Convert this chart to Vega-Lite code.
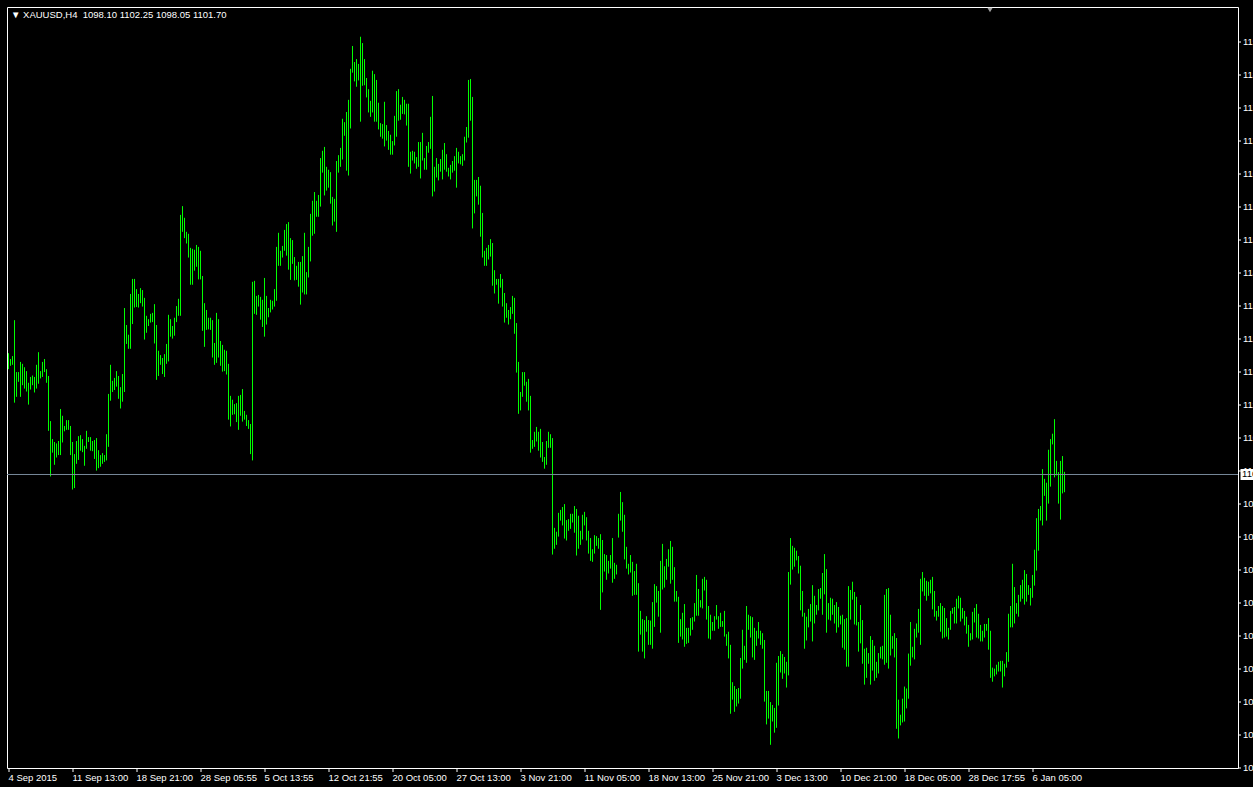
{
"$schema": "https://vega.github.io/schema/vega-lite/v6.json",
"width": 1231, "height": 761,
"autosize": {"type": "none"},
"padding": {"left": 7, "top": 7, "right": 15, "bottom": 19},
"background": "#000000",
"title": {"text": "▼ XAUUSD,H4\u00a0 1098.10 1102.25 1098.05 1101.70", "anchor": "start", "frame": "group", "orient": "top", "offset": 0, "baseline": "top", "dx": 4, "dy": 12, "font": "Liberation Sans, sans-serif", "fontSize": 9.5, "fontWeight": "normal", "color": "#ffffff"},
"config": {"view": {"stroke": "#ffffff", "strokeWidth": 1, "fill": "#000000"}, "axis": {"labelOverlap": false, "labelFlush": false}},
"layer": [
{"data": {"values": [
{"bar":0,"high":1126.7,"low":1123.4},{"bar":1,"high":1125.5,"low":1124.1},{"bar":2,"high":1126.1,"low":1124.3},{"bar":3,"high":1133.5,"low":1116.5},{"bar":4,"high":1122.8,"low":1117.7},{"bar":5,"high":1122.8,"low":1120.8},{"bar":6,"high":1124.9,"low":1117.7},{"bar":7,"high":1124.5,"low":1120.1},{"bar":8,"high":1123.8,"low":1119.4},{"bar":9,"high":1123.0,"low":1118.8},
{"bar":10,"high":1120.6,"low":1116.1},{"bar":11,"high":1121.8,"low":1119.2},{"bar":12,"high":1122.1,"low":1120.1},{"bar":13,"high":1121.8,"low":1118.6},{"bar":14,"high":1124.3,"low":1119.4},{"bar":15,"high":1126.9,"low":1120.4},{"bar":16,"high":1123.0,"low":1121.5},{"bar":17,"high":1124.9,"low":1121.8},{"bar":18,"high":1125.5,"low":1122.8},{"bar":19,"high":1123.4,"low":1120.6},
{"bar":20,"high":1122.0,"low":1110.7},{"bar":21,"high":1112.7,"low":1101.3},{"bar":22,"high":1109.0,"low":1106.2},{"bar":23,"high":1108.4,"low":1103.7},{"bar":24,"high":1108.1,"low":1105.2},{"bar":25,"high":1108.6,"low":1105.7},{"bar":26,"high":1115.2,"low":1105.7},{"bar":27,"high":1113.8,"low":1108.3},{"bar":28,"high":1111.7,"low":1110.6},{"bar":29,"high":1112.9,"low":1110.9},
{"bar":30,"high":1112.9,"low":1110.9},{"bar":31,"high":1111.7,"low":1105.7},{"bar":32,"high":1108.4,"low":1098.6},{"bar":33,"high":1105.9,"low":1098.9},{"bar":34,"high":1108.6,"low":1103.9},{"bar":35,"high":1109.6,"low":1104.7},{"bar":36,"high":1109.8,"low":1106.6},{"bar":37,"high":1109.0,"low":1106.3},{"bar":38,"high":1107.6,"low":1103.5},{"bar":39,"high":1110.7,"low":1107.0},
{"bar":40,"high":1109.4,"low":1108.4},{"bar":41,"high":1109.4,"low":1106.6},{"bar":42,"high":1108.6,"low":1106.5},{"bar":43,"high":1108.8,"low":1104.9},{"bar":44,"high":1109.2,"low":1102.5},{"bar":45,"high":1106.7,"low":1103.0},{"bar":46,"high":1105.7,"low":1103.3},{"bar":47,"high":1106.1,"low":1103.9},{"bar":48,"high":1105.7,"low":1104.3},{"bar":49,"high":1110.0,"low":1104.6},
{"bar":50,"high":1118.3,"low":1107.4},{"bar":51,"high":1124.3,"low":1116.9},{"bar":52,"high":1121.0,"low":1118.7},{"bar":53,"high":1121.6,"low":1119.1},{"bar":54,"high":1123.0,"low":1119.8},{"bar":55,"high":1122.0,"low":1117.3},{"bar":56,"high":1119.7,"low":1115.3},{"bar":57,"high":1122.4,"low":1116.7},{"bar":58,"high":1136.0,"low":1118.7},{"bar":59,"high":1132.5,"low":1128.6},
{"bar":60,"high":1130.5,"low":1127.6},{"bar":61,"high":1138.9,"low":1127.6},{"bar":62,"high":1142.0,"low":1132.7},{"bar":63,"high":1142.0,"low":1136.1},{"bar":64,"high":1139.9,"low":1136.2},{"bar":65,"high":1138.9,"low":1136.1},{"bar":66,"high":1140.1,"low":1137.0},{"bar":67,"high":1139.7,"low":1136.3},{"bar":68,"high":1138.1,"low":1129.5},{"bar":69,"high":1134.4,"low":1130.9},
{"bar":70,"high":1133.7,"low":1132.3},{"bar":71,"high":1134.8,"low":1133.0},{"bar":72,"high":1135.0,"low":1133.1},{"bar":73,"high":1136.8,"low":1128.7},{"bar":74,"high":1132.5,"low":1121.2},{"bar":75,"high":1127.2,"low":1122.0},{"bar":76,"high":1126.3,"low":1124.3},{"bar":77,"high":1125.7,"low":1122.4},{"bar":78,"high":1126.5,"low":1121.8},{"bar":79,"high":1128.6,"low":1124.5},
{"bar":80,"high":1134.6,"low":1125.0},{"bar":81,"high":1133.7,"low":1130.1},{"bar":82,"high":1132.3,"low":1129.7},{"bar":83,"high":1134.0,"low":1130.3},{"bar":84,"high":1136.4,"low":1133.1},{"bar":85,"high":1137.9,"low":1134.4},{"bar":86,"high":1155.2,"low":1134.4},{"bar":87,"high":1157.0,"low":1151.7},{"bar":88,"high":1154.6,"low":1150.4},{"bar":89,"high":1151.7,"low":1149.3},
{"bar":90,"high":1151.3,"low":1146.4},{"bar":91,"high":1148.4,"low":1140.8},{"bar":92,"high":1148.2,"low":1140.8},{"bar":93,"high":1148.0,"low":1143.7},{"bar":94,"high":1149.0,"low":1144.5},{"bar":95,"high":1148.6,"low":1141.9},{"bar":96,"high":1147.8,"low":1141.9},{"bar":97,"high":1142.6,"low":1131.3},{"bar":98,"high":1137.0,"low":1128.0},{"bar":99,"high":1135.6,"low":1131.5},
{"bar":100,"high":1134.0,"low":1131.6},{"bar":101,"high":1134.0,"low":1131.5},{"bar":102,"high":1133.5,"low":1125.8},{"bar":103,"high":1128.8,"low":1124.3},{"bar":104,"high":1135.0,"low":1124.7},{"bar":105,"high":1133.7,"low":1125.8},{"bar":106,"high":1129.2,"low":1124.1},{"bar":107,"high":1128.4,"low":1122.9},{"bar":108,"high":1127.4,"low":1123.0},{"bar":109,"high":1127.2,"low":1122.3},
{"bar":110,"high":1124.5,"low":1113.0},{"bar":111,"high":1117.9,"low":1111.6},{"bar":112,"high":1117.1,"low":1114.0},{"bar":113,"high":1116.2,"low":1114.1},{"bar":114,"high":1116.4,"low":1112.5},{"bar":115,"high":1117.9,"low":1110.9},{"bar":116,"high":1118.1,"low":1113.8},{"bar":117,"high":1119.3,"low":1112.6},{"bar":118,"high":1114.8,"low":1113.0},{"bar":119,"high":1114.0,"low":1111.7},
{"bar":120,"high":1112.9,"low":1111.1},{"bar":121,"high":1112.1,"low":1105.9},{"bar":122,"high":1141.4,"low":1104.6},{"bar":123,"high":1141.6,"low":1134.8},{"bar":124,"high":1138.5,"low":1134.6},{"bar":125,"high":1138.7,"low":1136.3},{"bar":126,"high":1138.3,"low":1133.6},{"bar":127,"high":1137.7,"low":1132.1},{"bar":128,"high":1142.2,"low":1130.1},{"bar":129,"high":1138.5,"low":1132.6},
{"bar":130,"high":1136.0,"low":1134.1},{"bar":131,"high":1137.7,"low":1135.1},{"bar":132,"high":1137.5,"low":1135.7},{"bar":133,"high":1139.9,"low":1136.3},{"bar":134,"high":1148.6,"low":1137.5},{"bar":135,"high":1151.5,"low":1144.7},{"bar":136,"high":1147.8,"low":1144.7},{"bar":137,"high":1148.8,"low":1146.4},{"bar":138,"high":1152.1,"low":1147.8},{"bar":139,"high":1153.3,"low":1146.8},
{"bar":140,"high":1153.7,"low":1143.9},{"bar":141,"high":1150.4,"low":1141.8},{"bar":142,"high":1150.0,"low":1145.1},{"bar":143,"high":1146.5,"low":1141.7},{"bar":144,"high":1144.7,"low":1141.8},{"bar":145,"high":1145.5,"low":1140.4},{"bar":146,"high":1145.5,"low":1136.7},{"bar":147,"high":1146.7,"low":1139.2},{"bar":148,"high":1151.5,"low":1138.8},{"bar":149,"high":1143.4,"low":1138.8},
{"bar":150,"high":1148.6,"low":1142.3},{"bar":151,"high":1155.4,"low":1145.6},{"bar":152,"high":1158.1,"low":1150.9},{"bar":153,"high":1159.9,"low":1151.3},{"bar":154,"high":1158.1,"low":1154.8},{"bar":155,"high":1159.3,"low":1154.8},{"bar":156,"high":1166.9,"low":1156.9},{"bar":157,"high":1168.4,"low":1163.9},{"bar":158,"high":1169.2,"low":1159.2},{"bar":159,"high":1165.1,"low":1160.2},
{"bar":160,"high":1164.5,"low":1160.8},{"bar":161,"high":1164.0,"low":1157.5},{"bar":162,"high":1158.9,"low":1153.0},{"bar":163,"high":1158.5,"low":1153.8},{"bar":164,"high":1166.3,"low":1151.7},{"bar":165,"high":1167.5,"low":1163.9},{"bar":166,"high":1169.0,"low":1165.1},{"bar":167,"high":1175.0,"low":1166.6},{"bar":168,"high":1174.3,"low":1171.5},{"bar":169,"high":1176.4,"low":1164.3},
{"bar":170,"high":1178.9,"low":1163.3},{"bar":171,"high":1185.3,"low":1173.0},{"bar":172,"high":1190.0,"low":1184.5},{"bar":173,"high":1186.7,"low":1182.7},{"bar":174,"high":1187.3,"low":1181.6},{"bar":175,"high":1186.3,"low":1182.9},{"bar":176,"high":1191.9,"low":1174.4},{"bar":177,"high":1190.6,"low":1181.8},{"bar":178,"high":1187.3,"low":1181.9},{"bar":179,"high":1183.4,"low":1179.4},
{"bar":180,"high":1181.1,"low":1176.3},{"bar":181,"high":1178.7,"low":1175.4},{"bar":182,"high":1184.9,"low":1176.3},{"bar":183,"high":1184.2,"low":1174.4},{"bar":184,"high":1183.0,"low":1174.4},{"bar":185,"high":1178.3,"low":1172.8},{"bar":186,"high":1174.1,"low":1171.3},{"bar":187,"high":1173.9,"low":1170.9},{"bar":188,"high":1178.5,"low":1169.3},{"bar":189,"high":1173.7,"low":1170.5},
{"bar":190,"high":1172.5,"low":1168.6},{"bar":191,"high":1171.7,"low":1167.6},{"bar":192,"high":1170.4,"low":1167.6},{"bar":193,"high":1175.6,"low":1169.5},{"bar":194,"high":1180.7,"low":1171.3},{"bar":195,"high":1181.1,"low":1174.6},{"bar":196,"high":1177.9,"low":1174.8},{"bar":197,"high":1179.5,"low":1176.0},{"bar":198,"high":1178.9,"low":1175.9},{"bar":199,"high":1178.1,"low":1173.6},
{"bar":200,"high":1178.1,"low":1165.1},{"bar":201,"high":1168.2,"low":1163.7},{"bar":202,"high":1168.4,"low":1166.4},{"bar":203,"high":1168.2,"low":1165.8},{"bar":204,"high":1167.1,"low":1164.7},{"bar":205,"high":1170.2,"low":1165.1},{"bar":206,"high":1170.2,"low":1162.7},{"bar":207,"high":1172.1,"low":1166.4},{"bar":208,"high":1166.9,"low":1164.5},{"bar":209,"high":1169.4,"low":1164.5},
{"bar":210,"high":1170.2,"low":1168.0},{"bar":211,"high":1175.4,"low":1168.8},{"bar":212,"high":1179.7,"low":1159.0},{"bar":213,"high":1165.1,"low":1160.0},{"bar":214,"high":1166.9,"low":1162.9},{"bar":215,"high":1165.7,"low":1162.3},{"bar":216,"high":1166.7,"low":1164.1},{"bar":217,"high":1168.6,"low":1162.5},{"bar":218,"high":1170.0,"low":1164.5},{"bar":219,"high":1167.7,"low":1164.1},
{"bar":220,"high":1164.9,"low":1163.1},{"bar":221,"high":1165.5,"low":1162.5},{"bar":222,"high":1166.3,"low":1163.9},{"bar":223,"high":1167.3,"low":1164.3},{"bar":224,"high":1169.0,"low":1160.8},{"bar":225,"high":1168.2,"low":1165.8},{"bar":226,"high":1167.3,"low":1165.6},{"bar":227,"high":1167.7,"low":1165.3},{"bar":228,"high":1171.3,"low":1166.4},{"bar":229,"high":1173.3,"low":1170.1},
{"bar":230,"high":1183.0,"low":1171.1},{"bar":231,"high":1183.2,"low":1174.6},{"bar":232,"high":1179.5,"low":1152.4},{"bar":233,"high":1162.4,"low":1155.5},{"bar":234,"high":1162.4,"low":1159.0},{"bar":235,"high":1163.0,"low":1157.3},{"bar":236,"high":1161.2,"low":1150.7},{"bar":237,"high":1155.6,"low":1146.4},{"bar":238,"high":1147.8,"low":1144.7},{"bar":239,"high":1148.4,"low":1144.7},
{"bar":240,"high":1149.0,"low":1146.0},{"bar":241,"high":1150.2,"low":1146.6},{"bar":242,"high":1149.4,"low":1140.6},{"bar":243,"high":1143.8,"low":1139.0},{"bar":244,"high":1142.0,"low":1140.8},{"bar":245,"high":1142.0,"low":1136.9},{"bar":246,"high":1143.0,"low":1140.2},{"bar":247,"high":1142.0,"low":1136.3},{"bar":248,"high":1139.1,"low":1133.0},{"bar":249,"high":1137.0,"low":1134.0},
{"bar":250,"high":1135.6,"low":1132.6},{"bar":251,"high":1136.2,"low":1133.7},{"bar":252,"high":1138.5,"low":1134.8},{"bar":253,"high":1138.1,"low":1130.7},{"bar":254,"high":1132.9,"low":1122.7},{"bar":255,"high":1124.9,"low":1114.2},{"bar":256,"high":1118.7,"low":1114.9},{"bar":257,"high":1122.8,"low":1117.7},{"bar":258,"high":1122.8,"low":1120.0},{"bar":259,"high":1120.8,"low":1116.7},
{"bar":260,"high":1121.4,"low":1114.9},{"bar":261,"high":1117.9,"low":1106.2},{"bar":262,"high":1108.8,"low":1107.0},{"bar":263,"high":1110.5,"low":1107.4},{"bar":264,"high":1111.5,"low":1108.5},{"bar":265,"high":1110.5,"low":1106.6},{"bar":266,"high":1111.1,"low":1105.2},{"bar":267,"high":1108.4,"low":1104.3},{"bar":268,"high":1105.3,"low":1102.9},{"bar":269,"high":1108.6,"low":1103.7},
{"bar":270,"high":1110.5,"low":1107.2},{"bar":271,"high":1110.0,"low":1107.2},{"bar":272,"high":1109.2,"low":1085.2},{"bar":273,"high":1090.7,"low":1086.4},{"bar":274,"high":1089.9,"low":1087.2},{"bar":275,"high":1093.8,"low":1088.9},{"bar":276,"high":1094.4,"low":1092.2},{"bar":277,"high":1095.0,"low":1091.2},{"bar":278,"high":1095.6,"low":1088.5},{"bar":279,"high":1092.3,"low":1088.1},
{"bar":280,"high":1092.5,"low":1090.1},{"bar":281,"high":1093.6,"low":1090.5},{"bar":282,"high":1093.6,"low":1091.8},{"bar":283,"high":1095.2,"low":1089.7},{"bar":284,"high":1094.6,"low":1085.0},{"bar":285,"high":1093.2,"low":1086.4},{"bar":286,"high":1090.1,"low":1087.2},{"bar":287,"high":1093.4,"low":1088.3},{"bar":288,"high":1094.0,"low":1091.2},{"bar":289,"high":1092.9,"low":1088.1},
{"bar":290,"high":1090.1,"low":1085.4},{"bar":291,"high":1088.6,"low":1083.9},{"bar":292,"high":1086.3,"low":1083.7},{"bar":293,"high":1089.2,"low":1085.4},{"bar":294,"high":1089.0,"low":1087.0},{"bar":295,"high":1088.6,"low":1086.4},{"bar":296,"high":1089.4,"low":1073.8},{"bar":297,"high":1088.2,"low":1077.4},{"bar":298,"high":1085.3,"low":1081.7},{"bar":299,"high":1085.1,"low":1080.0},
{"bar":300,"high":1083.9,"low":1081.3},{"bar":301,"high":1085.1,"low":1082.3},{"bar":302,"high":1088.6,"low":1079.4},{"bar":303,"high":1083.5,"low":1080.2},{"bar":304,"high":1083.1,"low":1081.1},{"bar":305,"high":1093.6,"low":1088.7},{"bar":306,"high":1098.1,"low":1092.2},{"bar":307,"high":1096.0,"low":1089.9},{"bar":308,"high":1093.4,"low":1084.2},{"bar":309,"high":1086.8,"low":1082.3},
{"bar":310,"high":1083.3,"low":1081.1},{"bar":311,"high":1085.1,"low":1081.5},{"bar":312,"high":1083.7,"low":1076.7},{"bar":313,"high":1081.8,"low":1076.9},{"bar":314,"high":1083.3,"low":1076.9},{"bar":315,"high":1079.3,"low":1065.2},{"bar":316,"high":1073.6,"low":1068.7},{"bar":317,"high":1071.9,"low":1065.2},{"bar":318,"high":1071.7,"low":1063.8},{"bar":319,"high":1072.5,"low":1069.3},
{"bar":320,"high":1071.7,"low":1066.6},{"bar":321,"high":1071.6,"low":1066.6},{"bar":322,"high":1075.4,"low":1065.8},{"bar":323,"high":1079.1,"low":1070.3},{"bar":324,"high":1078.7,"low":1075.3},{"bar":325,"high":1077.7,"low":1072.4},{"bar":326,"high":1083.9,"low":1069.1},{"bar":327,"high":1087.4,"low":1078.0},{"bar":328,"high":1082.8,"low":1078.4},{"bar":329,"high":1084.3,"low":1080.0},
{"bar":330,"high":1086.3,"low":1082.7},{"bar":331,"high":1088.0,"low":1079.2},{"bar":332,"high":1086.8,"low":1080.0},{"bar":333,"high":1082.6,"low":1075.5},{"bar":334,"high":1077.7,"low":1075.5},{"bar":335,"high":1076.5,"low":1067.0},{"bar":336,"high":1071.9,"low":1068.3},{"bar":337,"high":1073.2,"low":1067.7},{"bar":338,"high":1075.0,"low":1066.2},{"bar":339,"high":1070.1,"low":1066.8},
{"bar":340,"high":1070.1,"low":1067.0},{"bar":341,"high":1072.1,"low":1068.5},{"bar":342,"high":1072.3,"low":1069.7},{"bar":343,"high":1075.2,"low":1071.4},{"bar":344,"high":1081.0,"low":1072.6},{"bar":345,"high":1078.1,"low":1072.6},{"bar":346,"high":1075.8,"low":1074.3},{"bar":347,"high":1080.2,"low":1074.1},{"bar":348,"high":1080.6,"low":1077.8},{"bar":349,"high":1080.0,"low":1071.8},
{"bar":350,"high":1074.6,"low":1067.9},{"bar":351,"high":1072.8,"low":1067.7},{"bar":352,"high":1071.3,"low":1069.5},{"bar":353,"high":1072.5,"low":1069.5},{"bar":354,"high":1074.8,"low":1071.8},{"bar":355,"high":1072.5,"low":1069.9},{"bar":356,"high":1073.2,"low":1070.3},{"bar":357,"high":1071.5,"low":1070.3},{"bar":358,"high":1073.6,"low":1068.3},{"bar":359,"high":1068.8,"low":1066.4},
{"bar":360,"high":1069.3,"low":1063.8},{"bar":361,"high":1066.6,"low":1052.4},{"bar":362,"high":1058.9,"low":1055.3},{"bar":363,"high":1058.1,"low":1052.8},{"bar":364,"high":1057.5,"low":1053.9},{"bar":365,"high":1057.7,"low":1054.5},{"bar":366,"high":1063.9,"low":1055.5},{"bar":367,"high":1069.7,"low":1061.7},{"bar":368,"high":1066.4,"low":1063.5},{"bar":369,"high":1074.6,"low":1062.9},
{"bar":370,"high":1072.8,"low":1069.7},{"bar":371,"high":1072.5,"low":1068.1},{"bar":372,"high":1072.3,"low":1064.0},{"bar":373,"high":1070.1,"low":1063.5},{"bar":374,"high":1069.5,"low":1066.4},{"bar":375,"high":1071.3,"low":1067.9},{"bar":376,"high":1069.5,"low":1066.6},{"bar":377,"high":1069.0,"low":1065.8},{"bar":378,"high":1067.6,"low":1054.9},{"bar":379,"high":1057.1,"low":1050.2},
{"bar":380,"high":1057.1,"low":1051.4},{"bar":381,"high":1054.8,"low":1046.0},{"bar":382,"high":1054.2,"low":1050.8},{"bar":383,"high":1053.6,"low":1048.5},{"bar":384,"high":1062.9,"low":1049.5},{"bar":385,"high":1064.3,"low":1054.1},{"bar":386,"high":1065.3,"low":1060.9},{"bar":387,"high":1064.7,"low":1059.6},{"bar":388,"high":1064.1,"low":1060.7},{"bar":389,"high":1063.1,"low":1057.8},
{"bar":390,"high":1081.6,"low":1060.3},{"bar":391,"high":1088.6,"low":1079.0},{"bar":392,"high":1087.0,"low":1082.1},{"bar":393,"high":1086.6,"low":1082.7},{"bar":394,"high":1086.0,"low":1084.0},{"bar":395,"high":1084.9,"low":1081.3},{"bar":396,"high":1082.9,"low":1073.7},{"bar":397,"high":1077.7,"low":1072.4},{"bar":398,"high":1073.2,"low":1065.8},{"bar":399,"high":1072.4,"low":1067.5},
{"bar":400,"high":1074.0,"low":1070.2},{"bar":401,"high":1075.0,"low":1071.4},{"bar":402,"high":1078.9,"low":1067.3},{"bar":403,"high":1076.7,"low":1071.0},{"bar":404,"high":1074.8,"low":1072.8},{"bar":405,"high":1078.1,"low":1073.7},{"bar":406,"high":1078.3,"low":1076.1},{"bar":407,"high":1081.4,"low":1072.8},{"bar":408,"high":1085.3,"low":1077.0},{"bar":409,"high":1082.2,"low":1069.1},
{"bar":410,"high":1075.2,"low":1071.8},{"bar":411,"high":1076.3,"low":1071.6},{"bar":412,"high":1076.1,"low":1072.8},{"bar":413,"high":1074.8,"low":1071.0},{"bar":414,"high":1075.4,"low":1069.1},{"bar":415,"high":1074.4,"low":1070.2},{"bar":416,"high":1072.6,"low":1070.8},{"bar":417,"high":1072.8,"low":1066.0},{"bar":418,"high":1071.9,"low":1065.6},{"bar":419,"high":1072.1,"low":1062.1},
{"bar":420,"high":1078.7,"low":1062.1},{"bar":421,"high":1077.9,"low":1071.8},{"bar":422,"high":1079.6,"low":1075.9},{"bar":423,"high":1077.5,"low":1070.8},{"bar":424,"high":1076.5,"low":1070.6},{"bar":425,"high":1071.3,"low":1065.2},{"bar":426,"high":1074.8,"low":1066.9},{"bar":427,"high":1071.7,"low":1062.7},{"bar":428,"high":1065.8,"low":1058.4},{"bar":429,"high":1066.0,"low":1059.8},
{"bar":430,"high":1064.9,"low":1062.7},{"bar":431,"high":1068.4,"low":1058.4},{"bar":432,"high":1067.6,"low":1061.3},{"bar":433,"high":1066.4,"low":1059.2},{"bar":434,"high":1063.1,"low":1059.8},{"bar":435,"high":1064.9,"low":1060.7},{"bar":436,"high":1066.2,"low":1063.8},{"bar":437,"high":1066.4,"low":1063.6},{"bar":438,"high":1076.9,"low":1062.5},{"bar":439,"high":1078.1,"low":1062.9},
{"bar":440,"high":1078.3,"low":1061.7},{"bar":441,"high":1072.8,"low":1064.4},{"bar":442,"high":1068.4,"low":1065.8},{"bar":443,"high":1069.0,"low":1064.0},{"bar":444,"high":1068.0,"low":1049.3},{"bar":445,"high":1055.3,"low":1047.3},{"bar":446,"high":1052.2,"low":1050.0},{"bar":447,"high":1055.5,"low":1050.6},{"bar":448,"high":1058.0,"low":1050.8},{"bar":449,"high":1057.6,"low":1053.5},
{"bar":450,"high":1064.8,"low":1055.5},{"bar":451,"high":1071.3,"low":1062.3},{"bar":452,"high":1066.2,"low":1064.0},{"bar":453,"high":1069.9,"low":1063.6},{"bar":454,"high":1071.0,"low":1068.1},{"bar":455,"high":1074.0,"low":1069.1},{"bar":456,"high":1080.2,"low":1066.6},{"bar":457,"high":1081.6,"low":1077.6},{"bar":458,"high":1080.4,"low":1076.7},{"bar":459,"high":1079.8,"low":1075.7},
{"bar":460,"high":1079.6,"low":1076.7},{"bar":461,"high":1080.0,"low":1077.2},{"bar":462,"high":1080.6,"low":1073.9},{"bar":463,"high":1077.7,"low":1072.4},{"bar":464,"high":1073.6,"low":1071.6},{"bar":465,"high":1074.6,"low":1072.4},{"bar":466,"high":1075.2,"low":1069.3},{"bar":467,"high":1074.6,"low":1067.9},{"bar":468,"high":1074.2,"low":1068.1},{"bar":469,"high":1072.1,"low":1068.3},
{"bar":470,"high":1070.1,"low":1067.7},{"bar":471,"high":1073.6,"low":1069.7},{"bar":472,"high":1074.2,"low":1073.0},{"bar":473,"high":1074.4,"low":1071.0},{"bar":474,"high":1076.1,"low":1071.0},{"bar":475,"high":1076.7,"low":1074.1},{"bar":476,"high":1076.3,"low":1071.4},{"bar":477,"high":1074.2,"low":1072.0},{"bar":478,"high":1073.6,"low":1070.6},{"bar":479,"high":1072.4,"low":1068.9},
{"bar":480,"high":1070.7,"low":1066.2},{"bar":481,"high":1069.0,"low":1067.5},{"bar":482,"high":1073.4,"low":1067.7},{"bar":483,"high":1074.2,"low":1071.2},{"bar":484,"high":1075.0,"low":1068.1},{"bar":485,"high":1073.0,"low":1067.9},{"bar":486,"high":1070.7,"low":1067.3},{"bar":487,"high":1069.5,"low":1067.3},{"bar":488,"high":1070.9,"low":1068.1},{"bar":489,"high":1070.9,"low":1069.5},
{"bar":490,"high":1072.1,"low":1065.6},{"bar":491,"high":1069.5,"low":1059.8},{"bar":492,"high":1061.9,"low":1059.0},{"bar":493,"high":1061.7,"low":1060.1},{"bar":494,"high":1062.5,"low":1060.5},{"bar":495,"high":1063.1,"low":1061.1},{"bar":496,"high":1063.3,"low":1061.1},{"bar":497,"high":1063.3,"low":1057.8},{"bar":498,"high":1062.7,"low":1060.1},{"bar":499,"high":1065.1,"low":1061.9},
{"bar":500,"high":1073.0,"low":1063.1},{"bar":501,"high":1074.6,"low":1070.2},{"bar":502,"high":1083.3,"low":1070.2},{"bar":503,"high":1078.5,"low":1071.0},{"bar":504,"high":1075.2,"low":1073.0},{"bar":505,"high":1076.9,"low":1072.4},{"bar":506,"high":1078.9,"low":1075.5},{"bar":507,"high":1080.0,"low":1076.1},{"bar":508,"high":1082.0,"low":1074.9},{"bar":509,"high":1081.2,"low":1075.5},
{"bar":510,"high":1078.9,"low":1076.9},{"bar":511,"high":1078.3,"low":1074.7},{"bar":512,"high":1081.0,"low":1076.3},{"bar":513,"high":1086.2,"low":1078.8},{"bar":514,"high":1092.7,"low":1081.9},{"bar":515,"high":1094.6,"low":1086.0},{"bar":516,"high":1095.2,"low":1092.2},{"bar":517,"high":1102.8,"low":1091.2},{"bar":518,"high":1100.8,"low":1097.3},{"bar":519,"high":1100.0,"low":1092.2},
{"bar":520,"high":1106.8,"low":1095.7},{"bar":521,"high":1109.0,"low":1099.2},{"bar":522,"high":1110.1,"low":1107.9},{"bar":523,"high":1113.1,"low":1101.1},{"bar":524,"high":1104.5,"low":1101.5},{"bar":525,"high":1102.2,"low":1095.7},{"bar":526,"high":1104.5,"low":1092.4},{"bar":527,"high":1105.5,"low":1097.8},{"bar":528,"high":1102.25,"low":1098.05}
]},
"mark": {"type": "rule", "color": "#00ff00", "strokeWidth": 1},
"encoding": {
"x": {"field": "bar", "type": "quantitative", "scale": {"domain": [-0.75, 614.75], "nice": false, "zero": false},
"axis": {"orient": "bottom", "values": [0,32,64,96,128,160,192,224,256,288,320,352,384,416,448,480,512], "tickCount": 40, "labelExpr": "['4 Sep 2015','11 Sep 13:00','18 Sep 21:00','28 Sep 05:55','5 Oct 13:55','12 Oct 21:55','20 Oct 05:00','27 Oct 13:00','3 Nov 21:00','11 Nov 05:00','18 Nov 13:00','25 Nov 21:00','3 Dec 13:00','10 Dec 21:00','18 Dec 05:00','28 Dec 17:55','6 Jan 05:00'][round(datum.value/32)]", "grid": false, "domain": false, "ticks": true, "tickColor": "#ffffff", "tickSize": 4, "tickWidth": 1, "labelColor": "#ffffff", "labelAlign": "left", "labelBaseline": "top", "labelPadding": 1, "labelFont": "Liberation Sans, sans-serif", "labelFontSize": 9.5, "labelFlush": false, "labelOverlap": false, "title": null, "translate": 0}},
"y": {"field": "high", "type": "quantitative", "scale": {"domain": [1041.22, 1198.03], "nice": false, "zero": false},
"axis": {"orient": "right", "values": [1041.3,1048.1,1054.9,1061.7,1068.5,1075.3,1082.1,1088.9,1095.7,1102.5,1109.3,1116.1,1122.9,1129.7,1136.5,1143.3,1150.1,1156.9,1163.7,1170.5,1177.3,1184.1,1190.9], "tickCount": 40, "format": ".2f", "grid": false, "domain": false, "tickColor": "#ffffff", "tickSize": 3, "tickWidth": 1, "labelColor": "#ffffff", "labelAlign": "left", "labelBaseline": "middle", "labelPadding": 2, "labelFont": "Liberation Sans, sans-serif", "labelFontSize": 9.5, "labelFlush": false, "labelOverlap": false, "title": null, "translate": 0}},
"y2": {"field": "low"}
}},
{"data": {"values": [{"price": 1101.70, "label": "1101.70"}]},
"layer": [
{"mark": {"type": "rule", "color": "#778899", "strokeWidth": 1}, "encoding": {"y": {"field": "price", "type": "quantitative"}}},
{"mark": {"type": "tick", "orient": "horizontal", "color": "#ffffff", "size": 16, "thickness": 11, "opacity": 1}, "encoding": {"x": {"datum": 620}, "y": {"field": "price", "type": "quantitative"}}},
{"mark": {"type": "text", "align": "left", "baseline": "middle", "color": "#000000", "font": "Liberation Sans, sans-serif", "fontSize": 9.5}, "encoding": {"x": {"datum": 616.8}, "y": {"field": "price", "type": "quantitative"}, "text": {"field": "label"}}}
]},
{"data": {"values": [{"marker": "shift", "bar": 490.75, "price": 1197.4}]},
"mark": {"type": "point", "shape": "triangle-down", "filled": true, "color": "#a0a0a0", "size": 28, "opacity": 1},
"encoding": {"x": {"field": "bar", "type": "quantitative"}, "y": {"field": "price", "type": "quantitative"}}}
]
}
